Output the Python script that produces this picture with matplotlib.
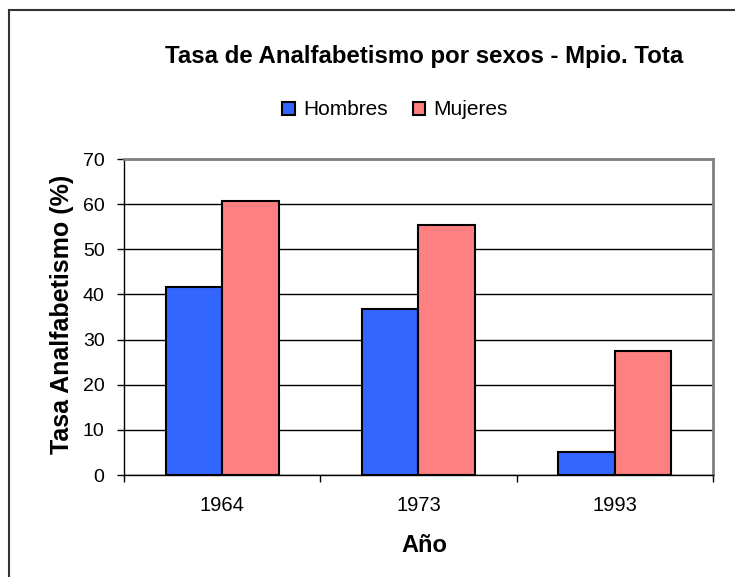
import matplotlib
matplotlib.use('Agg')
import matplotlib.pyplot as plt
import numpy as np
from matplotlib.lines import Line2D

plt.rcParams['font.family'] = ['Liberation Sans', 'DejaVu Sans']

years = ['1964', '1973', '1993']
hombres = [41.6, 36.7, 5.0]
mujeres = [60.8, 55.3, 27.5]

W, H = 735, 577
fig = plt.figure(figsize=(W / 100, H / 100), dpi=100)
ax = fig.add_axes([124 / W, 1 - 475 / H, 589 / W, 316 / H])

x = np.arange(len(years))
w = 0.288
ax.bar(x - w / 2, hombres, w, color='#3366FF', edgecolor='black', linewidth=1.5,
       label='Hombres', zorder=3)
ax.bar(x + w / 2, mujeres, w, color='#FF8080', edgecolor='black', linewidth=1.5,
       label='Mujeres', zorder=3)

ax.set_xlim(-0.5, 2.5)
ax.set_ylim(0, 70)
ax.set_yticks(np.arange(0, 71, 10))
ax.set_xticks(x)
ax.set_xticklabels(years)
# category separators on the x axis
ax.set_xticks(np.arange(-0.5, 2.6, 1), minor=True)
ax.tick_params(axis='x', which='major', length=0, labelsize=14.5, pad=15)
ax.tick_params(axis='x', which='minor', length=5, width=1, direction='out')
ax.tick_params(axis='y', length=5, width=1, direction='out', labelsize=14, pad=9)
ax.yaxis.grid(True, color='black', linewidth=1, zorder=0)
ax.set_axisbelow(True)

for side in ('left', 'bottom'):
    ax.spines[side].set_color('black')
    ax.spines[side].set_linewidth(1)
for side in ('top', 'right'):
    ax.spines[side].set_color('#808080')
    ax.spines[side].set_linewidth(2)

ax.set_ylabel('Tasa Analfabetismo (%)', fontsize=18, fontweight='bold', va='center')
ax.yaxis.set_label_coords((62 - 124) / 589, (475 - 314) / 316)
ax.set_xlabel('Año', fontsize=17, fontweight='bold', va='center')
ax.xaxis.set_label_coords((424 - 124) / 589, (475 - 545) / 316)

fig.text(424 / W, 1 - 57 / H, 'Tasa de Analfabetismo por sexos - Mpio. Tota',
         ha='center', va='center', fontsize=17.3, fontweight='bold')

leg = fig.legend(loc='center', bbox_to_anchor=(395 / W, 1 - 110 / H), ncol=2,
                 frameon=False, fontsize=15, handlelength=0.6, handleheight=0.6,
                 handletextpad=0.4, columnspacing=1.2)

# outer chart border (top and left edges)
fig.add_artist(Line2D([8.5 / W, 8.5 / W], [0, 1 - 9.5 / H],
                      transform=fig.transFigure, color='#333333', linewidth=1.5))
fig.add_artist(Line2D([8.5 / W, 1], [1 - 9.5 / H, 1 - 9.5 / H],
                      transform=fig.transFigure, color='#333333', linewidth=1.5))

fig.savefig('out.png', dpi=100)
